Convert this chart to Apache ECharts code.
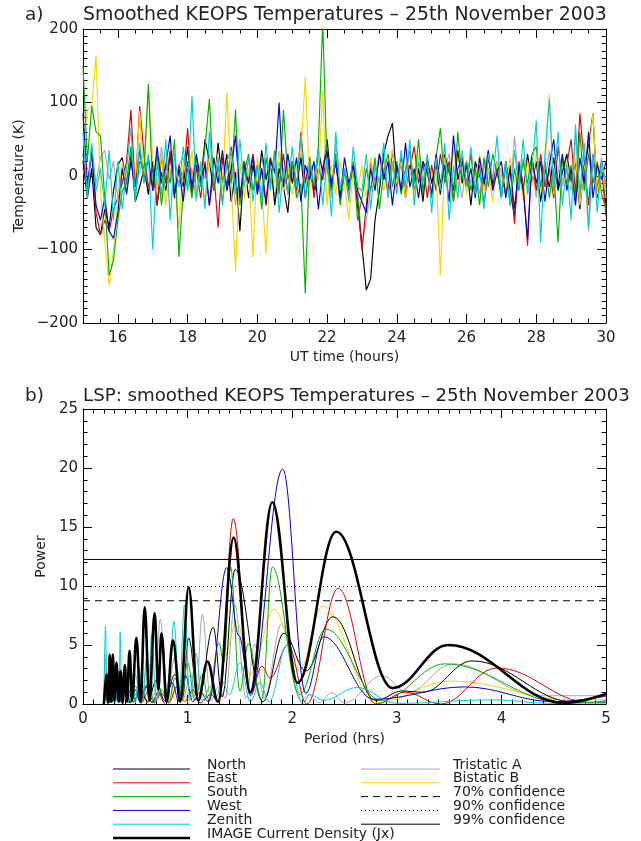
<!DOCTYPE html>
<html><head><meta charset="utf-8">
<script src="https://cdn.jsdelivr.net/npm/echarts@6/dist/echarts.min.js"></script>
<style>html,body{margin:0;padding:0;background:#fff}#c{width:641px;height:841px}</style>
</head><body><div id="c"></div>
<script>
// ---------- Panel a: smoothed temperatures (K), sampled every 0.125 h from 15 UT ----------
const tStart = 15, tStep = 0.125;
const tempNorth = [
20,-30,10,-70,-80,-45,-70,-20,
15,25,-10,30,-35,-15,10,-25,
20,-40,5,-20,30,-30,10,-15,
40,-25,15,-10,50,20,-20,45,
-10,30,-35,5,-75,20,-30,15,
-20,35,-5,25,-40,10,-15,-50,
20,-10,25,-30,10,-20,35,5,
50,-10,20,-25,5,-15,10,-40,
-95,-155,-140,-60,-20,30,55,72,
-10,20,-30,15,-20,10,-35,25,
-10,15,-25,30,5,-20,35,-10,
15,-40,20,0,-15,25,-10,10,
-30,20,-20,-55,15,-25,30,-10,
20,-35,10,-15,25,-20,5,30,
-10,20,-45,15,40,85,-30,20,
-40];
const tempEast = [
30,-20,40,-50,-80,-60,-75,-45,
-30,-10,20,90,-20,95,30,-15,
10,-40,25,-10,35,-25,15,-5,
65,-20,10,-30,20,-40,5,-70,
25,-15,40,-10,-30,20,-5,30,
-20,10,-35,25,5,-15,30,-25,
15,-20,60,-10,25,-30,10,-5,
30,-15,20,-35,10,-20,15,-30,
-100,-40,20,-10,30,5,-20,35,
-15,25,-25,10,40,-10,20,-30,
15,-20,30,-5,20,-35,10,25,
-10,30,-20,15,-40,10,-15,20,
5,-25,15,-65,20,-10,-95,25,
-20,30,-15,10,-30,40,-10,15,
50,-25,85,20,-40,30,-15,10,
-55];
const tempSouth = [
150,20,95,60,55,-30,-135,-115,
-60,-20,-10,40,-30,20,10,125,
-20,30,-40,15,-10,50,-110,-20,
10,-30,25,-15,40,105,-20,15,
-35,20,-10,90,-40,5,30,-20,
15,-45,25,-10,35,-25,90,-5,
20,-30,-10,-160,25,-15,40,210,
10,-20,30,-40,5,-15,20,-60,
-30,10,-20,25,-45,5,30,-15,
20,-25,10,35,-10,50,-20,15,
-30,25,65,-10,15,-35,60,-5,
20,-20,10,-40,25,-15,30,5,
-25,15,-40,10,-20,20,-10,30,
40,-15,20,-30,10,-90,25,-10,
15,-35,60,-20,30,-10,20,-25,
-45];
const tempWest = [
85,-10,30,-40,-60,-30,-75,-85,
-50,10,-25,20,-15,35,-5,25,
-20,40,-10,15,55,-25,10,-35,
20,-15,30,-5,15,-40,25,-10,
35,-20,10,55,-30,15,-10,25,
-25,10,-40,20,5,100,-15,30,
-10,25,-35,15,-5,20,-45,10,
35,-15,20,-30,25,-10,15,-20,
-35,-50,10,-20,30,-5,20,-40,
15,-20,45,-15,10,-30,20,5,
-25,30,-10,15,-35,55,-5,20,
-15,10,-30,25,-10,35,-20,5,
20,-30,10,-45,15,-20,-85,25,
-10,20,-35,15,50,-15,30,-20,
10,-40,25,-10,60,-30,15,-5,
20];
const tempZenith = [
60,-30,45,-20,10,-40,35,-60,
20,-45,10,65,-35,45,-10,30,
-100,20,-25,50,-60,30,-15,40,
-20,109,-30,15,-45,60,-10,25,
-40,20,35,-25,50,-15,25,-35,
15,-30,45,-20,30,-50,10,-25,
40,-15,55,-30,20,-10,35,-40,
25,-55,60,-20,10,-35,40,-15,
-20,30,-45,15,-10,45,-30,20,
-25,35,-15,50,-40,20,-10,30,
-50,25,-20,45,-60,15,-30,35,
-15,40,-25,10,-45,30,-5,55,
-30,20,-40,35,-15,50,-25,10,
75,-90,30,105,-20,60,-40,15,
-60,70,-25,45,-70,30,-50,20,
-10];
const tempTristatic = [
10,-20,30,-10,25,35,-5,20,
-30,15,-20,25,-10,5,30,-25,
20,-15,40,-5,10,-30,15,25,
-20,10,-35,20,-5,30,-15,10,
25,-20,15,-40,5,20,-10,30,
-15,25,-5,10,-30,20,-20,15,
5,-25,30,-10,15,-20,10,-5,
20,-30,45,-15,10,-25,20,-10,
-95,-60,-20,15,-10,25,-30,10,
20,-15,5,30,-20,10,-25,15,
-10,25,-20,10,30,-15,5,-30,
20,-10,15,-25,10,35,-15,20,
-20,10,-35,55,-10,25,-20,15,
-30,20,-10,35,-25,10,-15,30,
-20,55,-30,15,-75,20,-10,25,
-20];
const tempBistatic = [
40,90,95,164,-20,-90,-149,-100,
-30,20,-15,40,-25,88,-10,118,
25,-20,30,-40,10,-15,-70,20,
-10,35,-25,15,-35,25,-5,30,
-20,115,-10,-130,20,-30,10,-110,
25,-15,-105,20,-10,35,-20,15,
-25,10,30,135,-15,20,-5,117,
-40,15,-25,20,-10,-60,10,-20,
15,-30,25,-15,30,-20,5,35,
-10,20,-30,10,-25,30,-5,15,
-20,10,-135,25,-10,35,-15,10,
-25,15,-10,30,-20,10,-35,20,
5,-20,25,-10,15,-30,20,-15,
30,-20,10,111,-25,15,-10,20,
-15,25,-40,10,30,85,-25,15,
-30];

// ---------- Panel b: Lomb-Scargle power vs period (hrs), [period, power] ----------
const lspNorth = [[0.2,0],[0.25,1.5],[0.28,0.2],[0.32,2.0],[0.36,0.3],[0.42,1.5],[0.48,0.2],[0.55,1.2],[0.62,0.2],[0.7,2.0],[0.78,0.3],[0.88,2.5],[0.95,0.5],[1.01,5.6],[1.1,0.3],[1.245,6.5],[1.33,0.6],[1.455,11.4],[1.72,0.2],[1.92,6.0],[2.13,2.8],[2.39,7.4],[2.8,0.3],[3.05,1.1],[3.25,1.0],[3.72,3.65],[4.7,0.15],[5.0,0.1]];
const lspEast = [[0.2,0],[0.22,2.5],[0.24,0.2],[0.27,1.8],[0.3,0.2],[0.33,2.2],[0.36,0.2],[0.4,1.0],[0.45,0.1],[0.5,0.8],[0.56,0.1],[0.62,1.0],[0.68,0.1],[0.75,0.9],[0.82,0.1],[0.9,1.5],[0.97,0.2],[1.05,1.2],[1.12,0.1],[1.22,0.8],[1.3,0.2],[1.437,15.7],[1.6,0.7],[1.71,3.2],[1.79,2.2],[1.96,5.0],[2.14,0],[2.44,9.8],[2.8,0],[3.08,1.0],[3.42,0],[3.96,3.05],[4.85,0.1],[5.0,0.3]];
const lspSouth = [[0.2,0],[0.23,1.5],[0.26,0.1],[0.3,2.0],[0.34,0.2],[0.38,1.2],[0.44,0.1],[0.5,1.5],[0.56,0.2],[0.62,1.8],[0.68,0.2],[0.75,1.2],[0.82,0.2],[0.88,2.2],[0.94,0.3],[1.0,3.5],[1.07,0.3],[1.14,2.5],[1.2,0.4],[1.3,5.2],[1.345,3.5],[1.41,11.6],[1.5,1.1],[1.58,5.1],[1.71,0.4],[1.81,11.6],[2.07,0.8],[2.32,6.35],[2.85,0.3],[3.46,3.4],[4.6,0.1],[5.0,0.2]];
const lspWest = [[0.2,0],[0.22,1.0],[0.25,0.1],[0.28,3.7],[0.31,0.2],[0.34,2.8],[0.37,0.1],[0.41,1.6],[0.45,0.1],[0.5,1.2],[0.55,0.1],[0.6,1.5],[0.66,0.1],[0.72,1.0],[0.78,0.1],[0.85,1.8],[0.92,0.2],[0.98,2.4],[1.05,0.2],[1.12,1.0],[1.2,0.2],[1.374,11.55],[1.49,5.8],[1.6,0.85],[1.909,19.9],[2.13,0.9],[2.30,5.7],[2.78,0.4],[3.65,1.45],[4.5,0.2],[5.0,0.65]];
const lspZenith = [[0.2,0],[0.215,6.6],[0.23,0.2],[0.25,2.0],[0.27,0.1],[0.29,2.5],[0.31,0.1],[0.33,1.5],[0.345,0.1],[0.355,6.1],[0.37,0.1],[0.4,2.0],[0.43,0.1],[0.47,2.5],[0.5,0.1],[0.54,3.0],[0.57,0.2],[0.61,4.0],[0.63,0.5],[0.655,5.9],[0.7,0.3],[0.76,5.2],[0.81,0.3],[0.87,7.0],[0.92,0.5],[0.97,8.4],[1.02,0.3],[1.08,4.3],[1.14,0.3],[1.22,1.5],[1.27,0.5],[1.33,1.9],[1.4,0.8],[1.5,3.5],[1.6,0.2],[1.69,1.8],[1.78,0.2],[1.95,5.0],[2.1,0],[2.17,0.8],[2.3,0.3],[2.62,1.4],[3.0,0.05],[3.9,0.35],[4.5,0.05],[5.0,0.1]];
const lspImage = [[0.2,0],[0.225,2.5],[0.24,0.1],[0.255,4.2],[0.27,0.2],[0.285,4.2],[0.3,0.3],[0.32,3.5],[0.34,0.2],[0.36,2.8],[0.38,0.1],[0.4,3.3],[0.42,0.2],[0.445,4.5],[0.47,0.3],[0.51,5.6],[0.55,0.2],[0.59,8.2],[0.635,0.3],[0.685,7.7],[0.72,1.2],[0.75,6.0],[0.8,0.2],[0.86,5.4],[0.93,0.2],[1.01,9.9],[1.1,0.3],[1.19,3.6],[1.29,0.2],[1.44,14.1],[1.6,1.0],[1.81,17.1],[2.05,1.8],[2.42,14.6],[2.96,1.35],[3.49,5.0],[4.6,0.1],[5.0,0.85]];
const lspTristatic = [[0.2,0],[0.21,4.2],[0.23,0.2],[0.26,2.0],[0.29,0.1],[0.32,1.5],[0.36,0.2],[0.4,2.0],[0.45,0.2],[0.5,2.5],[0.55,0.2],[0.62,3.5],[0.68,0.3],[0.74,7.2],[0.8,0.3],[0.88,4.0],[0.95,0.3],[1.03,2.5],[1.08,0.4],[1.14,7.6],[1.22,0.3],[1.3,1.5],[1.36,0.5],[1.45,8.4],[1.56,0.5],[1.64,5.1],[1.73,0.5],[1.9,6.8],[2.08,0.3],[2.16,0.8],[2.26,0.1],[2.38,0.95],[2.5,0.1],[2.86,2.4],[3.1,1.0],[3.54,3.4],[4.35,0.7],[5.0,0.7]];
const lspBistatic = [[0.2,0],[0.22,1.0],[0.25,0.1],[0.28,2.8],[0.3,0.2],[0.34,2.0],[0.37,0.1],[0.42,1.0],[0.47,0.1],[0.55,0.8],[0.62,0.1],[0.7,1.0],[0.76,0.2],[0.83,2.0],[0.88,0.3],[0.95,1.5],[1.0,0.2],[1.1,1.3],[1.2,0.5],[1.28,4.3],[1.35,4.0],[1.47,7.0],[1.6,2.5],[1.826,8.05],[2.07,2.9],[2.29,8.3],[2.8,0.1],[3.52,1.95],[4.7,0.3],[5.0,0.4]];
const confLevels = [8.75, 9.95, 12.25];   // 70%, 90%, 99%
const periodRange = [0, 5];

// ---------- Text ----------
const titleA = 'Smoothed KEOPS Temperatures – 25th November 2003';
const titleB = 'LSP: smoothed KEOPS Temperatures – 25th November 2003';
const legendLeft = ['North','East','South','West','Zenith','IMAGE Current Density (Jx)'];
const legendRight = ['Tristatic A','Bistatic B','70% confidence','90% confidence','99% confidence'];

// ---------- Styling ----------
const FONT = 'DejaVu Sans';
const TXT = '#222';
const C = {north:'#000000', east:'#e00000', south:'#00b000', west:'#0000d8', zenith:'#00d0d0', tri:'#a8a8a8', bi:'#ffd400'};

const times = tempNorth.map((_, i) => tStart + i * tStep);
const toXY = arr => arr.map((v, i) => [times[i], v]);

function axisBase(extra) {
  return Object.assign({
    type: 'value',
    axisLine: {show: true, onZero: false, lineStyle: {color: '#000', width: 1}},
    axisTick: {show: true, inside: true, length: 9, lineStyle: {color: '#000', width: 1}},
    minorTick: {show: true, length: 4.5, lineStyle: {color: '#000', width: 1}},
    splitLine: {show: false},
    minorSplitLine: {show: false},
    axisLabel: {show: true, fontFamily: FONT, fontSize: 15, color: TXT},
    nameTextStyle: {fontFamily: FONT, fontSize: 14, color: TXT}
  }, extra);
}
function mirror(a, pos) {
  const m = Object.assign({}, a);
  m.position = pos; m.name = ''; m.axisLabel = {show: false};
  return m;
}

const xTop = axisBase({gridIndex: 0, min: 15, max: 30, splitNumber: 7,
  minorTick: {show: true, splitNumber: 4, length: 4.5, lineStyle: {color: '#000'}},
  name: 'UT time (hours)', nameLocation: 'middle', nameGap: 27,
  axisLabel: {fontFamily: FONT, fontSize: 15, color: TXT, margin: 8,
    formatter: v => (v % 2 === 0 ? String(v) : '')}});
const yTop = axisBase({gridIndex: 0, min: -200, max: 200, interval: 100,
  minorTick: {show: true, splitNumber: 10, length: 4.5, lineStyle: {color: '#000'}},
  name: 'Temperature (K)', nameLocation: 'middle', nameGap: 51,
  axisLabel: {fontFamily: FONT, fontSize: 15, color: TXT, margin: 5,
    formatter: v => (v < 0 ? '\u2212' + Math.abs(v) : String(v))}});
const xBot = axisBase({gridIndex: 1, min: periodRange[0], max: periodRange[1], interval: 1,
  minorTick: {show: true, splitNumber: 10, length: 4.5, lineStyle: {color: '#000'}},
  name: 'Period (hrs)', nameLocation: 'middle', nameGap: 28,
  axisLabel: {fontFamily: FONT, fontSize: 15, color: TXT, margin: 8}});
const yBot = axisBase({gridIndex: 1, min: 0, max: 25, interval: 5,
  minorTick: {show: true, splitNumber: 5, length: 4.5, lineStyle: {color: '#000'}},
  name: 'Power', nameLocation: 'middle', nameGap: 31,
  axisLabel: {fontFamily: FONT, fontSize: 15, color: TXT, margin: 5}});

const xTop2 = mirror(xTop, 'top');
const yTop2 = mirror(yTop, 'right');
const xBot2 = mirror(xBot, 'top');
const yBot2 = mirror(yBot, 'right');

function ts(name, arr, color) {
  return {name, type: 'line', xAxisIndex: 0, yAxisIndex: 0, data: toXY(arr), symbol: 'none',
    lineStyle: {color, width: 1.15}, itemStyle: {color}, clip: true, animation: false, z: 2};
}
function ls(name, arr, color, width) {
  return {name, type: 'line', xAxisIndex: 2, yAxisIndex: 2, data: arr, symbol: 'none',
    smooth: 0.38, smoothMonotone: 'x',
    lineStyle: {color, width: width || 1}, itemStyle: {color}, clip: true, animation: false, z: 2};
}
function conf(name, level, type) {
  return {name, type: 'line', xAxisIndex: 2, yAxisIndex: 2, symbol: 'none',
    data: [[periodRange[0], level], [periodRange[1], level]],
    lineStyle: {color: '#000', width: 1, type}, animation: false, z: 3};
}

const series = [
  ts('Tristatic A', tempTristatic, C.tri),
  ts('North', tempNorth, C.north),
  ts('East', tempEast, C.east),
  ts('Bistatic B', tempBistatic, C.bi),
  ts('South', tempSouth, C.south),
  ts('West', tempWest, C.west),
  ts('Zenith', tempZenith, C.zenith),
  ls('Tristatic A', lspTristatic, C.tri),
  ls('Bistatic B', lspBistatic, C.bi),
  ls('North', lspNorth, C.north),
  ls('East', lspEast, C.east),
  ls('South', lspSouth, C.south),
  ls('West', lspWest, C.west),
  ls('Zenith', lspZenith, C.zenith),
  ls('IMAGE Current Density (Jx)', lspImage, '#000', 2.6),
  conf('70% confidence', confLevels[0], [7, 5]),
  conf('90% confidence', confLevels[1], [1, 3]),
  conf('99% confidence', confLevels[2], 'solid')
];

// legend drawn as graphic rows
const graphic = [];
function txt(x, y, text, size) {
  graphic.push({type: 'text', x, y, silent: true,
    style: {text, fontFamily: FONT, fontSize: size, fill: TXT, verticalAlign: 'middle', align: 'left'}});
}
function seg(x1, x2, y, stroke, w, dash) {
  graphic.push({type: 'line', silent: true, shape: {x1, y1: y, x2, y2: y},
    style: {stroke, lineWidth: w, lineDash: dash || null}});
}
txt(25, 15, 'a)', 18.5); txt(83, 15, titleA, 18.9);
txt(25, 396, 'b)', 18.5); txt(83, 396, titleB, 18.2);
const leftStyles = [[C.north,1],[C.east,1],[C.south,1],[C.west,1],[C.zenith,1],['#000',2.4]];
legendLeft.forEach((t, i) => {
  const y = 765 + i * 13.8;
  seg(113, 190, y + 4, leftStyles[i][0], leftStyles[i][1]);
  txt(207, y, t, 14);
});
const rightStyles = [[C.tri,1,null],[C.bi,1,null],['#000',1,[7,5]],['#000',1,[1,3]],['#000',1,null]];
legendRight.forEach((t, i) => {
  const y = 765 + i * 13.8;
  seg(361, 440, y + 4, rightStyles[i][0], rightStyles[i][1], rightStyles[i][2]);
  txt(453, y, t, 14);
});

const chart = echarts.init(document.getElementById('c'), null, {renderer: 'canvas'});
chart.setOption({
  backgroundColor: '#fff',
  animation: false,
  grid: [
    {left: 83, top: 29, width: 523, height: 294},
    {left: 83, top: 409, width: 523, height: 295}
  ],
  xAxis: [xTop, xTop2, xBot, xBot2],
  yAxis: [yTop, yTop2, yBot, yBot2],
  series,
  graphic
});
</script></body></html>
